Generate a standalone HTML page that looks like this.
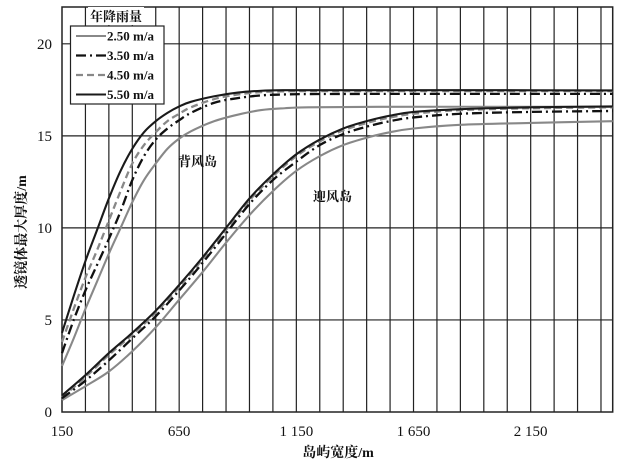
<!DOCTYPE html>
<html><head><meta charset="utf-8"><style>
html,body{margin:0;padding:0;background:#fff}
svg{display:block}
text{font-family:"Liberation Serif","Noto Serif CJK SC",serif}
</style></head><body>
<svg id="chart" width="639" height="462" viewBox="0 0 639 462" xmlns="http://www.w3.org/2000/svg"></svg>
<script>
const xTicks=[150,650,1150,1650,2150];
const xTickLabels=["150","650","1 150","1 650","2 150"];
const yTicks=[0,5,10,15,20];
const leeX=[150,200,250,300,350,400,450,500,550,600,650,700,800,900,1000,1100,1200,1500,2000,2500];
const lee550=[4.3,6.3,8.2,9.9,11.6,13.1,14.3,15.2,15.8,16.25,16.6,16.85,17.15,17.35,17.45,17.48,17.48,17.48,17.48,17.47];
const lee450=[3.8,5.6,7.3,8.8,10.4,12.0,13.5,14.5,15.2,15.8,16.2,16.55,17.0,17.25,17.38,17.42,17.43,17.43,17.43,17.43];
const lee350=[3.2,5.0,6.6,8.0,9.4,10.9,12.6,13.9,14.8,15.4,15.85,16.25,16.8,17.05,17.2,17.25,17.27,17.28,17.28,17.28];
const lee250=[2.5,4.0,5.6,7.1,8.6,10.0,11.4,12.6,13.5,14.3,14.85,15.25,15.8,16.15,16.4,16.5,16.55,16.58,16.58,16.58];
const windX=[150,250,350,450,550,650,750,850,950,1050,1150,1250,1350,1450,1550,1650,1850,2150,2500];
const wind550=[0.9,2.0,3.2,4.3,5.5,6.9,8.4,10.0,11.6,12.9,14.0,14.8,15.4,15.8,16.1,16.3,16.45,16.55,16.6];
const wind450=[0.8,1.9,3.1,4.2,5.4,6.8,8.3,9.9,11.5,12.8,13.9,14.7,15.3,15.7,16.0,16.2,16.4,16.5,16.55];
const wind350=[0.75,1.7,2.8,4.0,5.2,6.6,8.1,9.7,11.3,12.6,13.6,14.5,15.1,15.5,15.8,16.0,16.2,16.3,16.35];
const wind250=[0.65,1.4,2.2,3.3,4.6,6.1,7.6,9.2,10.7,12.0,13.1,13.9,14.5,14.9,15.2,15.4,15.6,15.7,15.8];
const legendLabels=["2.50 m/a","3.50 m/a","4.50 m/a","5.50 m/a"];

const L=62,R=612.7,T=7,B=412;
const xMin=150,xMax=2500,yMin=0,yMax=22;
const sx=v=>L+(v-xMin)/(xMax-xMin)*(R-L);
const sy=v=>B-(v-yMin)/(yMax-yMin)*(B-T);
const NS="http://www.w3.org/2000/svg";
const svg=document.getElementById('chart');
function mk(tag,attrs,parent){const e=document.createElementNS(NS,tag);for(const k in attrs)e.setAttribute(k,attrs[k]);(parent||svg).appendChild(e);return e;}

const grid=mk('g',{});


for(let v=250;v<xMax;v+=100){
  const l=mk('line',{x1:sx(v),x2:sx(v),y1:T,y2:B,stroke:'#222','stroke-width':1.2},grid);
  
  
}
for(const v of yTicks.slice(1)){
  const l=mk('line',{x1:L,x2:R,y1:sy(v),y2:sy(v),stroke:'#222','stroke-width':1.2},grid);
  
  
}
const frame=mk('rect',{x:L,y:T,width:R-L,height:B-T,fill:'none',stroke:'#222','stroke-width':1.5});



function smooth(xs,ys){
  const p=xs.map((x,i)=>[sx(x),sy(ys[i])]);
  let d='M'+p[0][0].toFixed(2)+','+p[0][1].toFixed(2);
  for(let i=0;i<p.length-1;i++){
    const p0=p[i-1]||p[i],p1=p[i],p2=p[i+1],p3=p[i+2]||p2;
    const c1=[p1[0]+(p2[0]-p0[0])/6,p1[1]+(p2[1]-p0[1])/6];
    const c2=[p2[0]-(p3[0]-p1[0])/6,p2[1]-(p3[1]-p1[1])/6];
    d+=' C'+c1.map(v=>v.toFixed(2))+' '+c2.map(v=>v.toFixed(2))+' '+p2[0].toFixed(2)+','+p2[1].toFixed(2);
  }
  return d;
}
const styles={
  s250:{stroke:'#888','stroke-width':2.1},
  s350:{stroke:'#111','stroke-width':2.3,'stroke-dasharray':'10 4 2 4'},
  s450:{stroke:'#888','stroke-width':2.3,'stroke-dasharray':'7 4'},
  s550:{stroke:'#1a1a1a','stroke-width':2.1}
};
const series=[
  ['leeward-2-50',leeX,lee250,'s250'],['windward-2-50',windX,wind250,'s250'],
  ['leeward-4-50',leeX,lee450,'s450'],['windward-4-50',windX,wind450,'s450'],
  ['leeward-3-50',leeX,lee350,'s350'],['windward-3-50',windX,wind350,'s350'],
  ['leeward-5-50',leeX,lee550,'s550'],['windward-5-50',windX,wind550,'s550']
];
for(const [name,xs,ys,st] of series){
  const p=mk('path',Object.assign({d:smooth(xs,ys),fill:'none'},styles[st]));
  
  
}

xTicks.forEach((v,i)=>{
  const t=mk('text',{x:sx(v),y:436,'text-anchor':'middle','font-size':15,fill:'#111'});
  t.textContent=xTickLabels[i];
  
  
});
yTicks.forEach(v=>{
  const t=mk('text',{x:52,y:sy(v)+5,'text-anchor':'end','font-size':15,fill:'#111'});
  t.textContent=String(v);
  
  
});

// legend
const lg=mk('g',{});


mk('rect',{x:88,y:7,width:56,height:18,fill:'#fff'},lg);
const ltt=mk('text',{x:116,y:21,'text-anchor':'middle','font-size':13,'font-weight':'bold',fill:'#111'},lg);
ltt.textContent='年降雨量';


mk('rect',{x:70.5,y:26,width:93.5,height:78,fill:'#fff',stroke:'#222','stroke-width':1.2},lg);
const legSt=['s250','s350','s450','s550'];
legendLabels.forEach((lab,i)=>{
  const y=36+i*19.5;
  const ln=mk('line',Object.assign({x1:76,x2:106,y1:y,y2:y},styles[legSt[i]]),lg);
  
  
  const t=mk('text',{x:107,y:y+4.5,'font-size':13,'font-weight':'bold',fill:'#111'},lg);
  t.textContent=lab;
  
  
});

const a1=mk('text',{x:178,y:166,'font-size':13,'font-weight':'bold',fill:'#111'});
a1.textContent='背风岛';


const a2=mk('text',{x:313,y:201,'font-size':13,'font-weight':'bold',fill:'#111'});
a2.textContent='迎风岛';



const xt=mk('text',{x:338,y:457,'text-anchor':'middle','font-size':14,'font-weight':'bold',fill:'#111'});
xt.textContent='岛屿宽度/m';


const yt=mk('text',{x:0,y:0,'text-anchor':'middle','font-size':14,'font-weight':'bold',fill:'#111',transform:'translate(26,232) rotate(-90)'});
yt.textContent='透镜体最大厚度/m';


</script>
</body></html>
